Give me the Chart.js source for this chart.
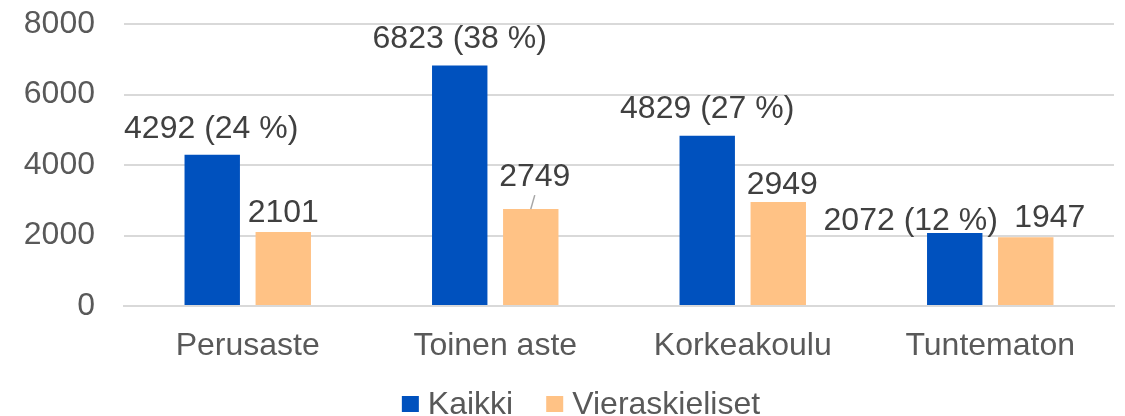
<!DOCTYPE html>
<html>
<head>
<meta charset="utf-8">
<script src="https://cdn.jsdelivr.net/npm/chart.js@4"></script>
<style>
  html, body { margin: 0; padding: 0; background: #fff; }
  canvas { display: block; }
</style>
</head>
<body>
<canvas id="chart" width="1125" height="416"></canvas>
<script>
// Koulutusaste-luokat ja sarjat
const categories = ['Perusaste', 'Toinen aste', 'Korkeakoulu', 'Tuntematon'];
const kaikki = [4292, 6823, 4829, 2072];
const kaikkiOsuus = [24, 38, 27, 12]; // prosenttia
const vieraskieliset = [2101, 2749, 2949, 1947];
const yTicks = [0, 2000, 4000, 6000, 8000];

const FONT = "'Liberation Sans', Arial, sans-serif";
const BLUE = '#0051be';
const ORANGE = '#ffc285';

// Datalabelien siirrot pylvään yläreunan keskeltä (Excel asetteli ne käsin)
const labelShift = [
    [[-1, -28], [0, -29], [0, -29], [-44, -14]],
    [[0, -21], [4, -35], [4, -20], [24, -22]]
];

// Piirretään arvot pylväiden päälle
const valueLabels = {
    id: 'valueLabels',
    afterDatasetsDraw(chart) {
        const ctx = chart.ctx;
        ctx.save();
        ctx.font = '32px ' + FONT;
        ctx.fillStyle = '#404040';
        ctx.textAlign = 'center';
        ctx.textBaseline = 'alphabetic';
        chart.data.datasets.forEach((ds, di) => {
            const meta = chart.getDatasetMeta(di);
            meta.data.forEach((bar, i) => {
                const text = di === 0
                    ? ds.data[i] + ' (' + kaikkiOsuus[i] + ' %)'
                    : String(ds.data[i]);
                const [dx, dy] = labelShift[di][i];
                const cx = bar.x + dx;
                const cy = bar.y + dy;
                ctx.fillText(text, cx, cy + 11.5);
                // viivoitin, kun label on kaukana pylväästä
                if (dy < -30) {
                    ctx.strokeStyle = '#a6a6a6';
                    ctx.lineWidth = 1.5;
                    ctx.beginPath();
                    ctx.moveTo(cx, cy + 21);
                    ctx.lineTo(bar.x, bar.y);
                    ctx.stroke();
                }
            });
        });
        ctx.restore();
    }
};

// Oma selite alareunaan
const bottomLegend = {
    id: 'bottomLegend',
    afterDraw(chart) {
        const ctx = chart.ctx;
        ctx.save();
        ctx.font = '32px ' + FONT;
        ctx.textBaseline = 'alphabetic';
        const box = 17, gap = 9, itemGap = 33;
        const items = chart.data.datasets.map(ds => ({ label: ds.label, color: ds.backgroundColor }));
        let total = 0;
        items.forEach((it, i) => {
            total += box + gap + ctx.measureText(it.label).width + (i < items.length - 1 ? itemGap : 0);
        });
        let x = 581 - total / 2;
        items.forEach(it => {
            ctx.fillStyle = it.color;
            ctx.fillRect(x, 396, box, 16);
            x += box + gap;
            ctx.fillStyle = '#595959';
            ctx.fillText(it.label, x, 414);
            x += ctx.measureText(it.label).width + itemGap;
        });
        ctx.restore();
    }
};

const data = {
    labels: categories,
    datasets: [
        {
            label: 'Kaikki',
            data: kaikki,
            backgroundColor: BLUE,
            categoryPercentage: 0.574,
            barPercentage: 0.78
        },
        {
            label: 'Vieraskieliset',
            data: vieraskieliset,
            backgroundColor: ORANGE,
            categoryPercentage: 0.574,
            barPercentage: 0.78
        }
    ]
};

const config = {
    type: 'bar',
    data: data,
    options: {
        responsive: false,
        animation: false,
        devicePixelRatio: 1,
        layout: { padding: { top: 24, left: 0, right: 11, bottom: 50 } },
        plugins: {
            legend: { display: false },
            tooltip: { enabled: false }
        },
        scales: {
            x: {
                grid: { display: false, drawTicks: false },
                border: { display: true, color: '#d9d9d9', width: 2 },
                ticks: {
                    color: '#595959',
                    font: { family: FONT, size: 32 },
                    padding: 21,
                    maxRotation: 0
                },
                afterFit(scale) {
                    scale.height = 60;
                    scale.paddingLeft = 0;
                    scale.paddingRight = 0;
                }
            },
            y: {
                min: 0,
                max: 8000,
                afterBuildTicks(scale) { scale.ticks = yTicks.map(v => ({ value: v })); },
                grid: { color: '#d9d9d9', lineWidth: 2, drawTicks: false },
                border: { display: false },
                ticks: {
                    color: '#595959',
                    font: { family: FONT, size: 32 },
                    padding: 29,
                    callback: v => String(v)
                },
                afterFit(scale) {
                    scale.width = 124;
                    scale.paddingTop = 0;
                    scale.paddingBottom = 0;
                }
            }
        }
    },
    plugins: [valueLabels, bottomLegend]
};

window.onload = function() {
    new Chart(document.getElementById('chart').getContext('2d'), config);
};
</script>
</body>
</html>
